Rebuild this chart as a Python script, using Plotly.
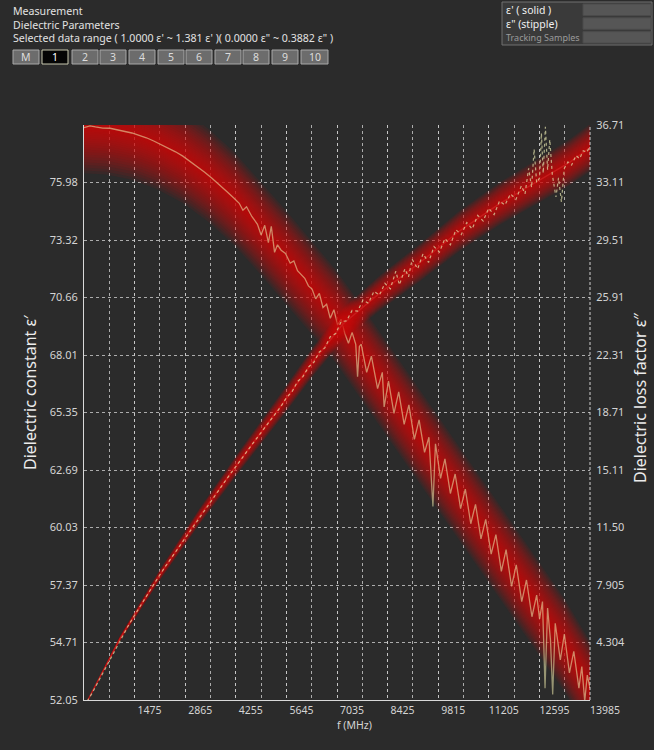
import plotly.graph_objects as go

# ---------------- data ----------------
# frequency axis (MHz)
f_range = [85, 13985]
f_major = [1475, 2865, 4255, 5645, 7035, 8425, 9815, 11205, 12595, 13985]
f_minor_step = 695

# left axis: dielectric constant eps'
eps1_range = [52.05, 78.64]
eps1_ticks = [52.05, 54.709, 57.368, 60.027, 62.686, 65.345, 68.004, 70.663, 73.322, 75.981, 78.64]
eps1_labels = ["52.05", "54.71", "57.37", "60.03", "62.69", "65.35", "68.01", "70.66", "73.32", "75.98", ""]

# right axis: dielectric loss factor eps''
eps2_range = [0.703, 36.71]
eps2_ticks = [0.703, 4.304, 7.905, 11.505, 15.106, 18.707, 22.307, 25.908, 29.509, 33.109, 36.71]
eps2_labels = ["", "4.304", "7.905", "11.50", "15.11", "18.71", "22.31", "25.91", "29.51", "33.11", "36.71"]

# tracking band centre lines
band1_f = [85, 700, 1400, 2100, 2800, 3500, 4200, 4900, 5600, 6300, 7000, 7700, 8400,
           9100, 9800, 10500, 11200, 11900, 12600, 13300, 13985]
band1_v = [78.56, 78.50, 78.26, 77.82, 77.18, 76.32, 75.25, 73.95, 72.60, 71.20, 69.80,
           68.15, 66.45, 64.75, 63.05, 61.35, 59.65, 57.95, 56.25, 54.55, 52.60]

band2_f = [85, 195, 1074, 2173, 3272, 4370, 5552, 6376, 7200, 8216, 9315, 10414,
           11513, 12612, 13436, 13985]
band2_v = [0.30, 0.71, 4.55, 8.55, 12.25, 15.70, 19.30, 21.90, 24.25, 26.20, 28.10,
           30.10, 31.80, 33.27, 34.39, 35.30]

# measured eps' (solid)
eps1_f = [85, 250, 400, 600, 800, 1000, 1200, 1400, 1600, 1800, 2000, 2200, 2400, 2600,
          2800, 3000, 3200, 3400, 3600, 3800, 4000, 4200, 4350, 4450, 4550, 4700, 4850,
          4950, 5050, 5150, 5230, 5320, 5400, 5500, 5620, 5750, 5850, 5950, 6050, 6150,
          6250, 6350, 6450, 6550, 6650, 6750, 6850, 6950, 7050, 7150, 7250, 7350, 7450,
          7550, 7600, 7650,
          7700, 7850, 7980, 8150, 8280, 8330, 8450, 8600, 8730, 8880, 9010, 9160, 9290,
          9440, 9560, 9670, 9740, 9880, 10000, 10150, 10280, 10430, 10560, 10710, 10840,
          10990, 11120, 11270, 11400, 11550, 11680, 11830, 11960, 12110, 12240, 12390,
          12520, 12600, 12680, 12750, 12820, 12900, 12960, 13030, 13170, 13280, 13420,
          13540, 13680, 13760, 13840, 13910, 13985]
eps1_v = [78.52, 78.60, 78.55, 78.50, 78.49, 78.42, 78.36, 78.27, 78.16, 78.05, 77.90,
          77.74, 77.58, 77.40, 77.20, 76.96, 76.72, 76.46, 76.18, 75.90, 75.58, 75.26,
          75.02, 74.70, 74.86, 74.40, 74.05, 73.55, 74.00, 73.20, 73.95, 72.75, 73.10,
          72.85, 72.70, 72.25, 72.35, 71.90, 71.70, 71.55, 71.20, 71.05, 70.60, 70.85,
          70.20, 70.35, 69.70, 70.10, 69.40, 69.65, 69.00, 68.55, 69.05, 68.50, 67.00,
          68.40,
          68.50, 67.20, 67.95, 66.45, 67.20, 65.60, 66.80, 65.30, 66.30, 64.80, 65.70,
          64.10, 65.00, 63.50, 64.20, 61.00, 63.90, 62.30, 63.20, 61.60, 62.50, 60.90,
          61.80, 60.20, 61.10, 59.50, 60.40, 58.80, 59.70, 58.00, 59.00, 57.30, 58.30,
          56.60, 57.60, 55.90, 56.90, 55.80, 56.60, 52.60, 56.30, 54.80, 52.30, 55.60,
          53.90, 55.10, 53.30, 54.30, 52.60, 53.60, 52.00, 53.20, 52.60]

# measured eps'' (stipple)
eps2_f = [85, 300, 500, 700, 900, 1100, 1300, 1500, 1700, 1900, 2100, 2300, 2500, 2700,
          2900, 3100, 3300, 3500, 3700, 3900, 4100, 4300, 4500, 4700, 4900, 5100, 5300,
          5500, 5650, 5800, 5950, 6100, 6250, 6400, 6550, 6700, 6850, 7000, 7150, 7300,
          7450, 7600, 7750, 7900, 8050, 8200, 8350, 8500, 8650, 8750, 8900, 9000, 9100,
          9250, 9400, 9550, 9700, 9850, 10000, 10150, 10300, 10450, 10600, 10750, 10900,
          11050, 11200, 11350, 11500, 11650, 11800, 11950, 12100, 12200, 12300, 12380,
          12450, 12520, 12600, 12650, 12700, 12760, 12820, 12880, 12950, 13050, 13120,
          13200, 13280, 13380, 13480, 13600, 13700, 13800, 13900, 13985]
eps2_v = [0.30, 1.10, 1.95, 2.80, 3.65, 4.55, 5.35, 6.10, 6.85, 7.55, 8.30, 9.00, 9.65,
          10.35, 11.00, 11.65, 12.30, 12.95, 13.60, 14.20, 14.85, 15.45, 16.10, 16.70,
          17.30, 17.90, 18.50, 19.10, 19.65, 20.00, 20.65, 20.95, 21.55, 21.85, 22.50,
          22.75, 23.45, 23.65, 24.40, 24.45, 25.10, 25.05, 25.75, 25.55, 26.30, 26.05,
          26.80, 26.45, 27.55, 26.70, 27.70, 27.20, 28.30, 27.70, 28.65, 28.10, 29.10,
          28.75, 29.60, 29.20, 30.15, 29.85, 30.60, 30.20, 31.05, 30.70, 31.50, 31.10,
          31.95, 31.70, 32.40, 32.05, 32.90, 32.40, 34.00, 32.80, 35.20, 33.10, 33.40,
          36.20, 33.70, 36.60, 33.90, 35.80, 33.60, 32.20, 33.40, 31.90, 34.00, 34.40,
          34.20, 34.80, 34.60, 35.10, 35.00, 35.40]

header_lines = ["Measurement", "Dielectric Parameters",
                "Selected data range ( 1.0000 \u03b5' ~ 1.381 \u03b5' )( 0.0000 \u03b5\" ~ 0.3882 \u03b5\" )"]
buttons = ["M", "1", "2", "3", "4", "5", "6", "7", "8", "9", "10"]
legend_rows = ["\u03b5' ( solid )", "\u03b5\" (stipple)", "Tracking Samples"]

# ---------------- styling ----------------
W, H = 654, 750
ML, MR, MT, MB = 84, 64, 125, 50
PW, PH = W - ML - MR, H - MT - MB
BG = "#2b2b2b"
GRID = "rgba(205,205,205,0.8)"
TXT = "#d4d4d4"
FONT = "Noto Sans, Open Sans, sans-serif"


def px(x):
    return (x - ML) / PW


def py(y):
    return (H - MB - y) / PH


fig = go.Figure()


def add_band(fx, fv, halfw, yaxis, layers=22, alpha=0.085, power=1.35):
    # nested translucent fills give a soft glow that is strongest at the centre
    for i in range(layers):
        k = ((layers - i) / layers) ** power
        up = [v + w * k for v, w in zip(fv, halfw)]
        lo = [v - w * k for v, w in zip(fv, halfw)]
        fig.add_trace(go.Scatter(
            x=list(fx) + list(fx)[::-1], y=up + lo[::-1], yaxis=yaxis,
            mode="lines", fill="toself", line=dict(width=0),
            fillcolor=f"rgba(212,8,8,{alpha})", hoverinfo="skip", showlegend=False))


# bands (eps' band constant width, eps'' band grows with the value)
add_band(band1_f, band1_v, [2.15] * len(band1_v), "y")
add_band(band2_f, band2_v, [0.042 * v for v in band2_v], "y2")

# eps'' : thin red trace under a pale stipple
fig.add_trace(go.Scatter(x=band2_f, y=band2_v, yaxis="y2", mode="lines",
                         line=dict(color="rgba(200,30,30,0.9)", width=1.4),
                         hoverinfo="skip", showlegend=False))
fig.add_trace(go.Scatter(x=eps2_f, y=eps2_v, yaxis="y2", mode="lines",
                         line=dict(color="rgba(225,225,170,0.72)", width=1.2, dash="3px,3px"),
                         hoverinfo="skip", showlegend=False))

# eps' : solid measured line
fig.add_trace(go.Scatter(x=eps1_f, y=eps1_v, yaxis="y", mode="lines",
                         line=dict(color="rgba(238,232,172,0.56)", width=1.3),
                         hoverinfo="skip", showlegend=False))

shapes = []
annotations = []

# dashed border on the right
shapes.append(dict(type="line", xref="paper", yref="paper", x0=1, x1=1, y0=0, y1=1,
                   line=dict(color="rgba(230,230,230,0.9)", width=1, dash="3px,2px")))

# header text
for i, t in enumerate(header_lines):
    annotations.append(dict(text=t, xref="paper", yref="paper", x=px(11), y=py(11 + 13.5 * i),
                            xanchor="left", yanchor="middle", showarrow=False,
                            font=dict(family=FONT, size=10.6, color="#e2e2e2")))

# selector buttons
bx = [13, 42, 72, 100, 129, 158, 186, 215, 243, 272, 301]
for i, lab in enumerate(buttons):
    x0 = bx[i]
    x1 = x0 + (26 if lab != "10" else 27)
    sel = lab == "1"
    shapes.append(dict(type="rect", xref="paper", yref="paper",
                       x0=px(x0), x1=px(x1), y0=py(64), y1=py(50),
                       fillcolor="#050505" if sel else "#6c6c6c",
                       line=dict(color="#c9c9b0" if sel else "#a8a8a8", width=1)))
    annotations.append(dict(text=lab, xref="paper", yref="paper", x=px((x0 + x1) / 2), y=py(57),
                            xanchor="center", yanchor="middle", showarrow=False,
                            font=dict(family=FONT, size=10.5, color="#ffffff" if sel else "#dcdcdc")))

# legend panel
shapes.append(dict(type="rect", xref="paper", yref="paper", x0=px(502), x1=px(652),
                   y0=py(45), y1=py(2), fillcolor="#3a3a3a", line=dict(color="#707070", width=1)))
for i in range(3):
    y0 = 3 + 13.8 * i
    shapes.append(dict(type="rect", xref="paper", yref="paper", x0=px(583), x1=px(651),
                       y0=py(y0 + 12.5), y1=py(y0 + 1), fillcolor="#565656",
                       line=dict(color="#4a4a4a", width=1)))
for i, t in enumerate(legend_rows):
    last = i == 2
    annotations.append(dict(text=t, xref="paper", yref="paper", x=px(504), y=py(10 + 13.6 * i),
                            xanchor="left", yanchor="middle", showarrow=False,
                            font=dict(family=FONT, size=9 if last else 10.5,
                                      color="#9a9a9a" if last else "#f0f0f0")))

# axis titles
annotations.append(dict(text="Dielectric constant \u03b5\u2032", xref="paper", yref="paper",
                        x=px(30), y=py(392), textangle=-90, showarrow=False,
                        xanchor="center", yanchor="middle",
                        font=dict(family=FONT, size=16, color="#ececec")))
annotations.append(dict(text="Dielectric loss factor \u03b5\u2033", xref="paper", yref="paper",
                        x=px(640), y=py(398), textangle=-90, showarrow=False,
                        xanchor="center", yanchor="middle",
                        font=dict(family=FONT, size=16, color="#ececec")))
annotations.append(dict(text="f (MHz)", xref="paper", yref="paper", x=px(354), y=py(725),
                        xanchor="center", yanchor="middle", showarrow=False,
                        font=dict(family=FONT, size=10.5, color=TXT)))

fig.update_layout(
    width=W, height=H,
    margin=dict(l=ML, r=MR, t=MT, b=MB, pad=0),
    paper_bgcolor=BG, plot_bgcolor=BG,
    showlegend=False,
    font=dict(family=FONT, size=11, color=TXT),
    shapes=shapes, annotations=annotations,
    xaxis=dict(range=f_range, tickvals=f_major, ticktext=[str(v) for v in f_major],
               showgrid=True, gridcolor=GRID, griddash="3px,3px", gridwidth=1,
               minor=dict(tick0=f_range[0], dtick=f_minor_step, showgrid=True,
                          gridcolor=GRID, griddash="3px,3px", gridwidth=1),
               zeroline=False, showline=True, linecolor="#d9d9d9", linewidth=1,
               ticks="", ticklabelshift=15, tickfont=dict(size=10.5, color=TXT)),
    yaxis=dict(range=eps1_range, tickvals=eps1_ticks, ticktext=eps1_labels,
               showgrid=True, gridcolor=GRID, griddash="3px,3px", gridwidth=1,
               zeroline=False, showline=True, linecolor="#d9d9d9", linewidth=1,
               ticks="outside", ticklen=3, tickcolor="rgba(0,0,0,0)",
               tickfont=dict(size=11, color=TXT)),
    yaxis2=dict(range=eps2_range, tickvals=eps2_ticks, ticktext=eps2_labels,
                overlaying="y", side="right", showgrid=False, zeroline=False,
                showline=False, ticks="outside", ticklen=3, tickcolor="rgba(0,0,0,0)",
                tickfont=dict(size=11, color=TXT)),
)

fig.write_html("out.html")
